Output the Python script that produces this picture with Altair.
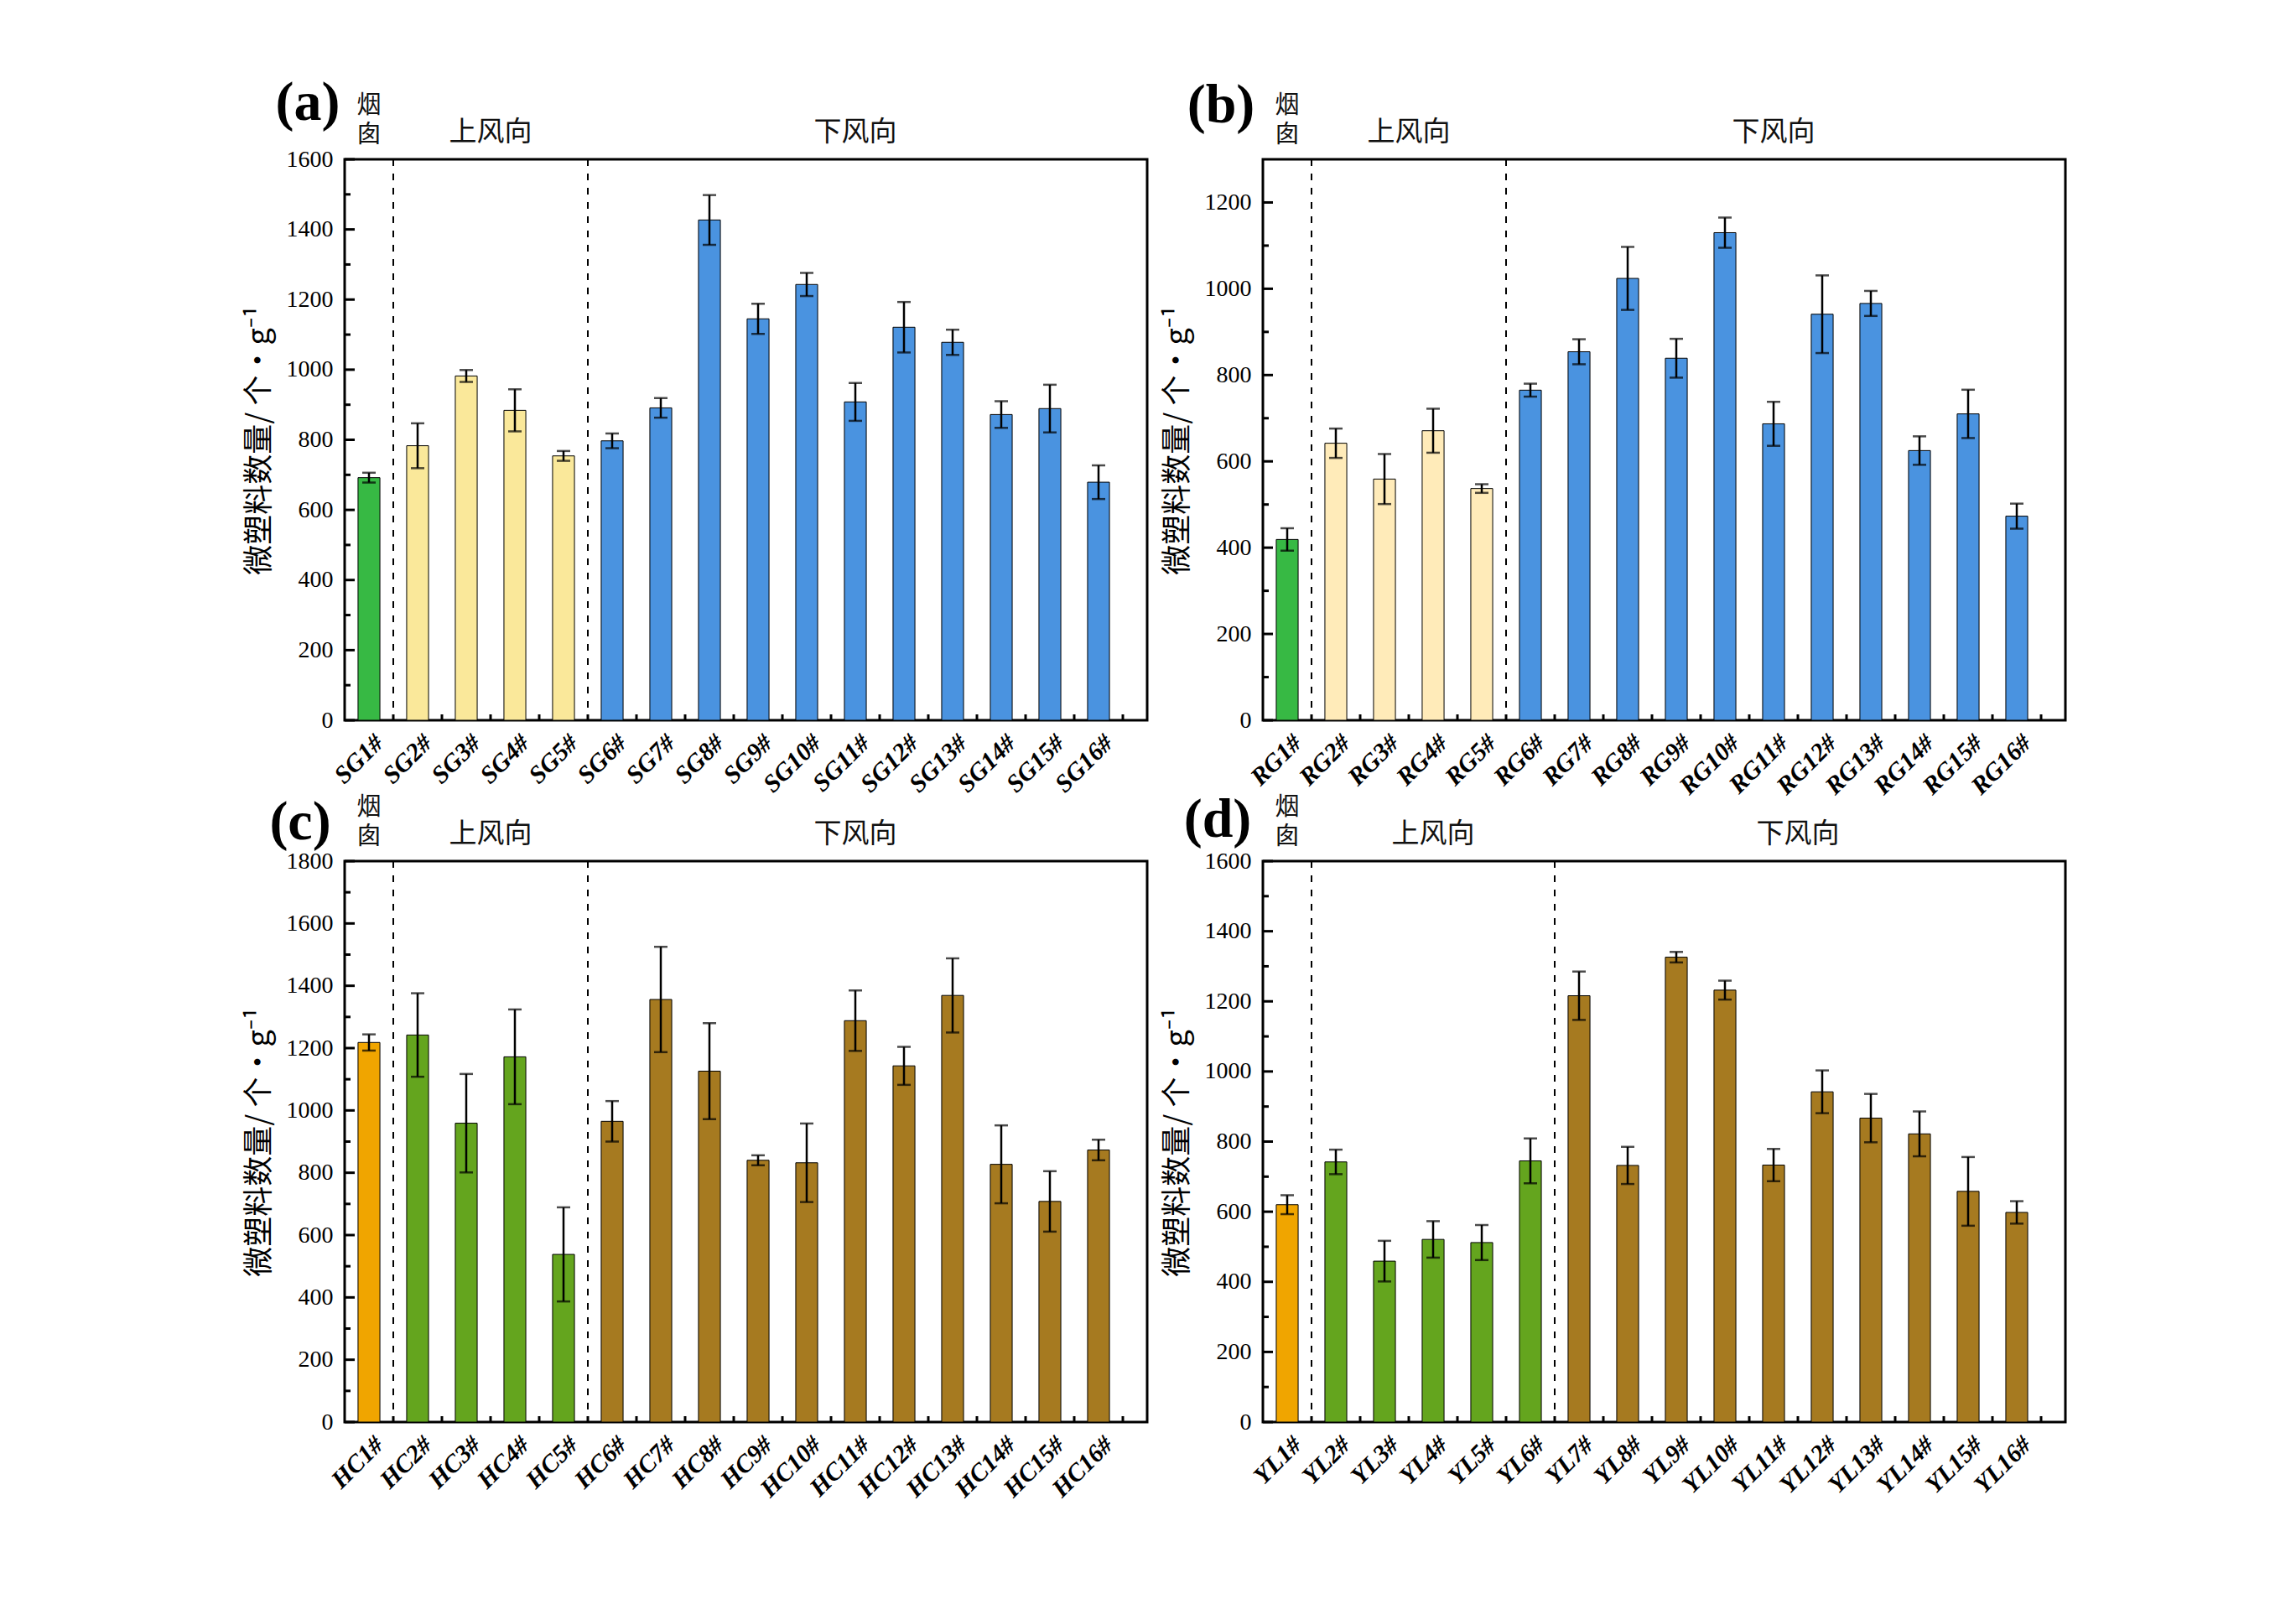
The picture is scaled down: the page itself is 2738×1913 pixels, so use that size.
import json
import altair as alt
import pandas as pd

# ---------------- data ----------------
sg_names = ["SG1#", "SG2#", "SG3#", "SG4#", "SG5#", "SG6#", "SG7#", "SG8#",
            "SG9#", "SG10#", "SG11#", "SG12#", "SG13#", "SG14#", "SG15#", "SG16#"]
sg_values = [692, 783, 982, 884, 754, 797, 891, 1427, 1145, 1243, 908, 1121, 1078, 872, 889, 679]
sg_errors = [14, 64, 17, 60, 14, 21, 28, 71, 43, 33, 54, 72, 36, 38, 68, 48]

rg_names = ["RG1#", "RG2#", "RG3#", "RG4#", "RG5#", "RG6#", "RG7#", "RG8#",
            "RG9#", "RG10#", "RG11#", "RG12#", "RG13#", "RG14#", "RG15#", "RG16#"]
rg_values = [419, 642, 559, 671, 537, 765, 854, 1024, 839, 1130, 687, 941, 966, 625, 710, 473]
rg_errors = [26, 34, 58, 51, 10, 15, 29, 73, 45, 35, 51, 90, 29, 33, 56, 29]

hc_names = ["HC1#", "HC2#", "HC3#", "HC4#", "HC5#", "HC6#", "HC7#", "HC8#",
            "HC9#", "HC10#", "HC11#", "HC12#", "HC13#", "HC14#", "HC15#", "HC16#"]
hc_values = [1218, 1242, 959, 1172, 538, 965, 1356, 1126, 840, 832, 1288, 1143, 1369, 827, 708, 873]
hc_errors = [26, 134, 158, 152, 151, 65, 169, 154, 16, 126, 97, 61, 119, 125, 97, 33]

yl_names = ["YL1#", "YL2#", "YL3#", "YL4#", "YL5#", "YL6#", "YL7#", "YL8#",
            "YL9#", "YL10#", "YL11#", "YL12#", "YL13#", "YL14#", "YL15#", "YL16#"]
yl_values = [620, 742, 459, 521, 512, 745, 1216, 732, 1326, 1232, 733, 942, 867, 822, 658, 598]
yl_errors = [27, 35, 58, 52, 50, 64, 69, 53, 15, 27, 46, 61, 69, 64, 98, 32]

# number of upwind sites in each panel (site 1 is the chimney)
upwind_counts = {"a": 4, "b": 4, "c": 4, "d": 5}
y_max = {"a": 1600, "b": 1300, "c": 1800, "d": 1600}

group_labels = ["烟囱", "上风向", "下风向"]
y_title = "微塑料数量/ 个·g⁻¹"

# ---------------- style ----------------
W, H = 957, 669
SERIF = "Liberation Serif"
CJK = "Noto Sans CJK SC"
colors_a = {"chimney": "#37B944", "up": "#FAE89A", "down": "#4A93E0"}
colors_b = {"chimney": "#37B944", "up": "#FFEBB9", "down": "#4A93E0"}
colors_cd = {"chimney": "#F0A500", "up": "#64A51E", "down": "#A67A20"}


def panel(letter, names, values, errors, n_up, ymax, colors, letter_x, letter_y):
    n = len(names)
    idx = list(range(1, n + 1))
    group = ["chimney"] + ["up"] * n_up + ["down"] * (n - 1 - n_up)
    df = pd.DataFrame({"idx": idx, "name": names, "val": values, "err": errors, "group": group})
    df["color"] = df["group"].map(colors)

    xs = alt.Scale(domain=[0.5, n + 1], nice=False, zero=False)
    ys = alt.Scale(domain=[0, ymax], nice=False, zero=True)
    label_expr = json.dumps(names, ensure_ascii=False) + "[datum.value - 1]"

    x_axis = alt.Axis(values=idx, labelExpr=label_expr, ticks=False, domain=False, grid=False,
                      labelFont=SERIF, labelFontSize=30, labelFontWeight="bold",
                      labelFontStyle="italic", labelAngle=315, labelAlign="right",
                      labelBaseline="middle", labelPadding=22, labelOffset=12,
                      labelOverlap=False, labelColor="black", title=None)
    y_axis = alt.Axis(values=list(range(0, ymax + 1, 200)), format="d", ticks=False, domain=False,
                      grid=False, labelFont=SERIF, labelFontSize=28, labelPadding=14,
                      labelColor="black", title=y_title, titleFont=CJK, titleFontSize=36,
                      titleFontWeight="normal", titlePadding=13, titleColor="black")

    def X(f):
        return alt.X(f, scale=xs, axis=x_axis)

    def Y(f):
        return alt.Y(f, scale=ys, axis=y_axis)

    base = alt.Chart(df)

    bars = base.transform_calculate(
        x0="datum.idx - 0.225", x1="datum.idx + 0.225"
    ).mark_bar(stroke="black", strokeWidth=1).encode(
        x=X("x0:Q"), x2="x1:Q",
        y=Y("val:Q"), y2=alt.datum(0),
        color=alt.Color("color:N", scale=None),
    )

    err = base.transform_calculate(lo="datum.val - datum.err", hi="datum.val + datum.err")
    err_line = err.mark_rule(color="black", strokeWidth=2.5).encode(
        x=X("idx:Q"), y=Y("lo:Q"), y2="hi:Q")
    cap_lo = err.mark_tick(orient="horizontal", color="black", size=16, thickness=2.5).encode(
        x=X("idx:Q"), y=Y("lo:Q"))
    cap_hi = err.mark_tick(orient="horizontal", color="black", size=16, thickness=2.5).encode(
        x=X("idx:Q"), y=Y("hi:Q"))

    # dashed separators between chimney / upwind / downwind
    sep = pd.DataFrame({"b": [1.5, n_up + 1.5]})
    seps = alt.Chart(sep).mark_rule(color="black", strokeWidth=2, strokeDash=[8, 9]).encode(
        x=X("b:Q"))

    # inward ticks
    ymaj = pd.DataFrame({"t": list(range(0, ymax + 1, 200))})
    ymin = pd.DataFrame({"t": list(range(100, ymax, 200))})
    ytick_maj = alt.Chart(ymaj).mark_rule(color="black", strokeWidth=3).encode(
        y=Y("t:Q"), x=alt.value(0), x2=alt.value(12))
    ytick_min = alt.Chart(ymin).mark_rule(color="black", strokeWidth=3).encode(
        y=Y("t:Q"), x=alt.value(0), x2=alt.value(7))
    xt = pd.DataFrame({"t": [i + 0.5 for i in idx]})
    xticks = alt.Chart(xt).mark_rule(color="black", strokeWidth=3).encode(
        x=X("t:Q"), y=alt.value(H), y2=alt.value(H - 7))

    # group annotations above the plot
    ann = pd.DataFrame({
        "x": [1.0,
              sum(range(2, 2 + n_up)) / n_up,
              sum(range(2 + n_up, n + 1)) / (n - 1 - n_up)],
        "t": group_labels,
    })
    chim_txt = group_labels[0]
    chim_top = alt.Chart(pd.DataFrame({"x": [1.0], "t": [chim_txt[0]]})).mark_text(
        font=CJK, fontSize=29, baseline="middle", color="#111"
    ).encode(x=X("x:Q"), y=alt.value(-64), text="t:N")
    chim_bot = alt.Chart(pd.DataFrame({"x": [1.0], "t": [chim_txt[1]]})).mark_text(
        font=CJK, fontSize=29, baseline="middle", color="#111"
    ).encode(x=X("x:Q"), y=alt.value(-29), text="t:N")
    regions = alt.Chart(ann.iloc[1:]).mark_text(
        font=CJK, fontSize=33, baseline="middle", color="#111"
    ).encode(x=X("x:Q"), y=alt.value(-32), text="t:N")

    let_df = pd.DataFrame({"t": [f"({letter})"]})
    let = alt.Chart(let_df).mark_text(
        font=SERIF, fontSize=66, fontWeight="bold", align="center", baseline="alphabetic", color="black"
    ).encode(x=alt.value(letter_x), y=alt.value(letter_y), text="t:N")

    return alt.layer(bars, err_line, cap_lo, cap_hi, seps, ytick_maj, ytick_min, xticks,
                     chim_top, chim_bot, regions, let).properties(width=W, height=H)


pa = panel("a", sg_names, sg_values, sg_errors, upwind_counts["a"], y_max["a"], colors_a, -44, -47)
pb = panel("b", rg_names, rg_values, rg_errors, upwind_counts["b"], y_max["b"], colors_b, -50, -44)
pc = panel("c", hc_names, hc_values, hc_errors, upwind_counts["c"], y_max["c"], colors_cd, -53, -26)
pd_ = panel("d", yl_names, yl_values, yl_errors, upwind_counts["d"], y_max["d"], colors_cd, -54, -29)

chart = alt.concat(
    pa, pb, pc, pd_, columns=2,
    spacing={"row": 168, "column": 138}, bounds="flush",
).properties(
    padding={"left": 289, "top": 88, "right": 5, "bottom": 5},
    background="white",
).configure_view(stroke="black", strokeWidth=3)

chart.save("out.html", embed_options={"renderer": "svg", "actions": False})
